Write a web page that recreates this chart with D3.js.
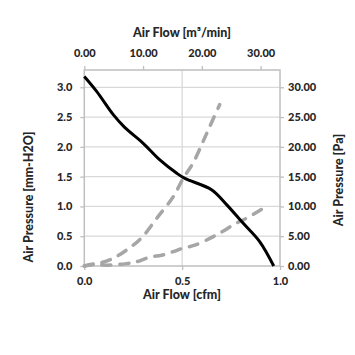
<!DOCTYPE html>
<html>
<head>
<meta charset="utf-8">
<script src="https://cdn.jsdelivr.net/npm/d3@7"></script>
<style>
html,body{margin:0;padding:0;background:#fff;}
svg text{font-family:Lato,"Open Sans",sans-serif;font-weight:900;fill:#262626;}
</style>
</head>
<body>
<svg id="chart" width="355" height="355"></svg>
<script>
// Fan curve: air flow [cfm] vs air pressure [mm-H2O]
const fanFlow     = [0.00, 0.063, 0.148, 0.205, 0.301, 0.386, 0.471, 0.514, 0.650, 0.727, 0.811, 0.896, 0.968];
const fanPressure = [3.18, 2.93, 2.54, 2.33, 2.06, 1.78, 1.56, 1.47, 1.28, 1.03, 0.72, 0.41, 0.00];
// System impedance curves (steep and flat), in cfm / mm-H2O
const steepFlow     = [0.00, 0.07, 0.148, 0.25, 0.30, 0.37, 0.454, 0.505, 0.556, 0.607, 0.641, 0.692];
const steepPressure = [0.00, 0.04, 0.13, 0.35, 0.50, 0.80, 1.16, 1.47, 1.73, 2.09, 2.34, 2.71];
const flatFlow      = [0.00, 0.063, 0.10, 0.216, 0.267, 0.335, 0.395, 0.454, 0.505, 0.565, 0.675, 0.777, 0.828, 0.94];
const flatPressure  = [0.00, 0.04, 0.015, 0.04, 0.07, 0.15, 0.18, 0.24, 0.30, 0.35, 0.52, 0.72, 0.80, 1.02];
// Tick labels
const xTicksCfm   = [0.0, 0.5, 1.0];
const xTicksM3    = [0, 10, 20, 30];
const yTicksMm    = [0.0, 0.5, 1.0, 1.5, 2.0, 2.5, 3.0];
const yTicksPa    = [0, 5, 10, 15, 20, 25, 30];
const titles = {
  top: "Air Flow [m³/min]",
  bottom: "Air Flow [cfm]",
  left: "Air Pressure [mm-H2O]",
  right: "Air Pressure [Pa]"
};

const svg = d3.select("#chart");
const L = 84.3, R = 280, T = 70, B = 266;

const x = d3.scaleLinear().domain([0, 1.0]).range([L, R]);
const xTop = d3.scaleLinear().domain([0, 33.3]).range([L, R]);
const y = d3.scaleLinear().domain([0, 3.29]).range([B, T]);
const yR = d3.scaleLinear().domain([0, 32.9]).range([B, T]);

const gridColor = "#d9d9d9", axisColor = "#bfbfbf";

// gridlines
svg.append("g").selectAll("line").data(yTicksMm.filter(d => d > 0)).join("line")
  .attr("x1", L).attr("x2", R).attr("y1", d => y(d)).attr("y2", d => y(d))
  .attr("stroke", gridColor).attr("stroke-width", 1.3);
svg.append("g").selectAll("line").data([0.5]).join("line")
  .attr("x1", d => x(d)).attr("x2", d => x(d)).attr("y1", T).attr("y2", B)
  .attr("stroke", gridColor).attr("stroke-width", 1.3);

function styleAxis(g) {
  g.select(".domain").remove();
  g.selectAll(".tick line").attr("stroke", axisColor).attr("stroke-width", 1.3);
  g.selectAll(".tick text").attr("font-size", 11).attr("fill", "#262626");
}

svg.append("g").attr("transform", `translate(0,${B})`)
  .call(d3.axisBottom(x).tickValues(xTicksCfm).tickFormat(d3.format(".1f")).tickSizeOuter(0).tickSize(4).tickPadding(7))
  .call(styleAxis);
svg.append("g").attr("transform", `translate(0,${T})`)
  .call(d3.axisTop(xTop).tickValues(xTicksM3).tickFormat(d3.format(".2f")).tickSizeOuter(0).tickSize(4).tickPadding(9))
  .call(styleAxis);
svg.append("g").attr("transform", `translate(${L},0)`)
  .call(d3.axisLeft(y).tickValues(yTicksMm).tickFormat(d3.format(".1f")).tickSizeOuter(0).tickSize(4).tickPadding(8))
  .call(styleAxis);
svg.append("g").attr("transform", `translate(${R},0)`)
  .call(d3.axisRight(yR).tickValues(yTicksPa).tickFormat(d3.format(".2f")).tickSizeOuter(0).tickSize(4).tickPadding(4))
  .call(styleAxis);

svg.append("rect").attr("x", L).attr("y", T).attr("width", R - L).attr("height", B - T)
  .attr("fill", "none").attr("stroke", axisColor).attr("stroke-width", 1.5);

// lines
const line = d3.line().x(d => x(d[0])).y(d => y(d[1])).curve(d3.curveCatmullRom.alpha(0.5));
const zip = (a, b) => a.map((v, i) => [v, b[i]]);

svg.append("path").datum(zip(flatFlow, flatPressure)).attr("d", line)
  .attr("fill", "none").attr("stroke", "#a6a6a6").attr("stroke-width", 3.5)
  .attr("stroke-dasharray", "9,9").attr("stroke-linecap", "round");
svg.append("path").datum(zip(steepFlow, steepPressure)).attr("d", line)
  .attr("fill", "none").attr("stroke", "#a6a6a6").attr("stroke-width", 3.5)
  .attr("stroke-dasharray", "9,9").attr("stroke-linecap", "round");
svg.append("path").datum(zip(fanFlow, fanPressure)).attr("d", line)
  .attr("fill", "none").attr("stroke", "#000").attr("stroke-width", 3);

// titles
svg.append("text").attr("x", 182).attr("y", 37).attr("text-anchor", "middle")
  .attr("font-size", 12.5).text(titles.top);
svg.append("text").attr("x", 182).attr("y", 299).attr("text-anchor", "middle")
  .attr("font-size", 12.5).text(titles.bottom);
svg.append("text").attr("transform", "translate(32.5,197) rotate(-90)").attr("text-anchor", "middle")
  .attr("font-size", 12.5).text(titles.left);
svg.append("text").attr("transform", "translate(342.5,180) rotate(-90)").attr("text-anchor", "middle")
  .attr("font-size", 12.5).text(titles.right);
</script>
</body>
</html>
